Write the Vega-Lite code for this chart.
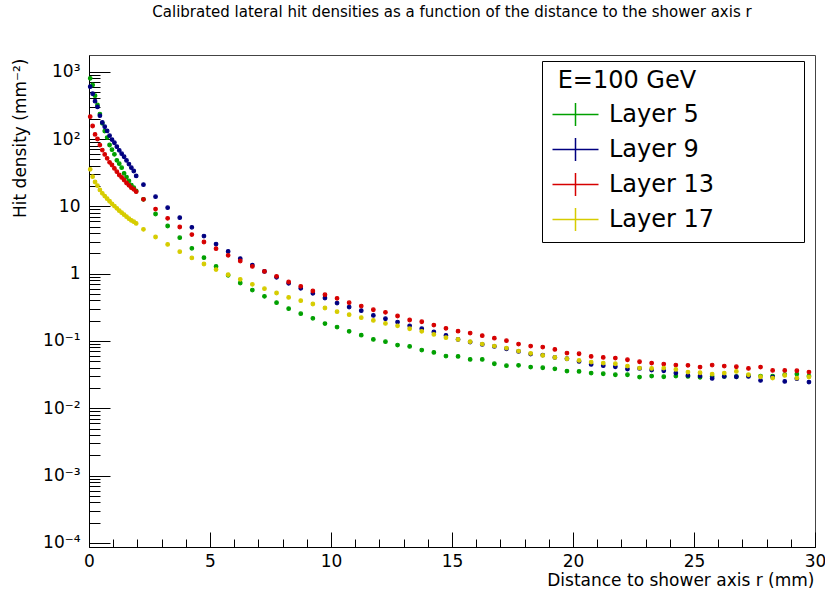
{
  "$schema": "https://vega.github.io/schema/vega-lite/v6.json",
  "width": 726,
  "height": 492,
  "autosize": {"type": "none"},
  "padding": {"left": 89, "top": 55, "right": 10, "bottom": 47},
  "background": "white",
  "title": {
    "text": "Calibrated lateral hit densities as a function of the distance to the shower axis r",
    "font": "DejaVu Sans",
    "fontSize": 15,
    "fontWeight": "normal",
    "color": "black",
    "anchor": "middle",
    "offset": 35
  },
  "config": {
    "view": {"stroke": "#444", "strokeWidth": 1}
  },
  "datasets": {
    "hits": [
      {"layer":"Layer 5","r":0.05,"density":796},{"layer":"Layer 5","r":0.15,"density":634},{"layer":"Layer 5","r":0.25,"density":440},{"layer":"Layer 5","r":0.35,"density":320},{"layer":"Layer 5","r":0.45,"density":235},{"layer":"Layer 5","r":0.55,"density":171},{"layer":"Layer 5","r":0.65,"density":131},{"layer":"Layer 5","r":0.75,"density":105},{"layer":"Layer 5","r":0.85,"density":81.5},{"layer":"Layer 5","r":0.95,"density":69.4},
      {"layer":"Layer 5","r":1.05,"density":59.2},{"layer":"Layer 5","r":1.15,"density":48.2},{"layer":"Layer 5","r":1.25,"density":43},{"layer":"Layer 5","r":1.35,"density":37.5},{"layer":"Layer 5","r":1.45,"density":30.9},{"layer":"Layer 5","r":1.55,"density":27.2},{"layer":"Layer 5","r":1.65,"density":23.8},{"layer":"Layer 5","r":1.75,"density":20.7},{"layer":"Layer 5","r":1.85,"density":18.9},{"layer":"Layer 5","r":1.95,"density":16.9},
      {"layer":"Layer 5","r":2.25,"density":12.7},{"layer":"Layer 5","r":2.75,"density":7.7},{"layer":"Layer 5","r":3.25,"density":5.1},{"layer":"Layer 5","r":3.75,"density":3.42},{"layer":"Layer 5","r":4.25,"density":2.38},{"layer":"Layer 5","r":4.75,"density":1.73},{"layer":"Layer 5","r":5.25,"density":1.28},{"layer":"Layer 5","r":5.75,"density":0.944},{"layer":"Layer 5","r":6.25,"density":0.726},{"layer":"Layer 5","r":6.75,"density":0.571},
      {"layer":"Layer 5","r":7.25,"density":0.46},{"layer":"Layer 5","r":7.75,"density":0.371},{"layer":"Layer 5","r":8.25,"density":0.302},{"layer":"Layer 5","r":8.75,"density":0.254},{"layer":"Layer 5","r":9.25,"density":0.217},{"layer":"Layer 5","r":9.75,"density":0.181},{"layer":"Layer 5","r":10.25,"density":0.161},{"layer":"Layer 5","r":10.75,"density":0.139},{"layer":"Layer 5","r":11.25,"density":0.122},{"layer":"Layer 5","r":11.75,"density":0.1055},
      {"layer":"Layer 5","r":12.25,"density":0.0975},{"layer":"Layer 5","r":12.75,"density":0.0869},{"layer":"Layer 5","r":13.25,"density":0.083},{"layer":"Layer 5","r":13.75,"density":0.0733},{"layer":"Layer 5","r":14.25,"density":0.0676},{"layer":"Layer 5","r":14.75,"density":0.0597},{"layer":"Layer 5","r":15.25,"density":0.059},{"layer":"Layer 5","r":15.75,"density":0.0532},{"layer":"Layer 5","r":16.25,"density":0.0532},{"layer":"Layer 5","r":16.75,"density":0.0459},
      {"layer":"Layer 5","r":17.25,"density":0.0429},{"layer":"Layer 5","r":17.75,"density":0.0434},{"layer":"Layer 5","r":18.25,"density":0.0409},{"layer":"Layer 5","r":18.75,"density":0.04},{"layer":"Layer 5","r":19.25,"density":0.0386},{"layer":"Layer 5","r":19.75,"density":0.0357},{"layer":"Layer 5","r":20.25,"density":0.0353},{"layer":"Layer 5","r":20.75,"density":0.0333},{"layer":"Layer 5","r":21.25,"density":0.0326},{"layer":"Layer 5","r":21.75,"density":0.0315},
      {"layer":"Layer 5","r":22.25,"density":0.0315},{"layer":"Layer 5","r":22.75,"density":0.0291},{"layer":"Layer 5","r":23.25,"density":0.0301},{"layer":"Layer 5","r":23.75,"density":0.0294},{"layer":"Layer 5","r":24.25,"density":0.0301},{"layer":"Layer 5","r":24.75,"density":0.0297},{"layer":"Layer 5","r":25.25,"density":0.0288},{"layer":"Layer 5","r":25.75,"density":0.0297},{"layer":"Layer 5","r":26.25,"density":0.0297},{"layer":"Layer 5","r":26.75,"density":0.0294},
      {"layer":"Layer 5","r":27.25,"density":0.0308},{"layer":"Layer 5","r":27.75,"density":0.0301},{"layer":"Layer 5","r":28.25,"density":0.0301},{"layer":"Layer 5","r":28.75,"density":0.0315},{"layer":"Layer 5","r":29.25,"density":0.0322},{"layer":"Layer 5","r":29.75,"density":0.0301},

      {"layer":"Layer 9","r":0.05,"density":600},{"layer":"Layer 9","r":0.15,"density":470},{"layer":"Layer 9","r":0.25,"density":365},{"layer":"Layer 9","r":0.35,"density":300},{"layer":"Layer 9","r":0.45,"density":222},{"layer":"Layer 9","r":0.55,"density":176},{"layer":"Layer 9","r":0.65,"density":152},{"layer":"Layer 9","r":0.75,"density":132},{"layer":"Layer 9","r":0.85,"density":112},{"layer":"Layer 9","r":0.95,"density":98},
      {"layer":"Layer 9","r":1.05,"density":88},{"layer":"Layer 9","r":1.15,"density":77},{"layer":"Layer 9","r":1.25,"density":68},{"layer":"Layer 9","r":1.35,"density":60.5},{"layer":"Layer 9","r":1.45,"density":54.5},{"layer":"Layer 9","r":1.55,"density":48},{"layer":"Layer 9","r":1.65,"density":42.5},{"layer":"Layer 9","r":1.75,"density":37.5},{"layer":"Layer 9","r":1.85,"density":33.5},{"layer":"Layer 9","r":1.95,"density":28.3},
      {"layer":"Layer 9","r":2.25,"density":21},{"layer":"Layer 9","r":2.75,"density":13.9},{"layer":"Layer 9","r":3.25,"density":9.55},{"layer":"Layer 9","r":3.75,"density":6.79},{"layer":"Layer 9","r":4.25,"density":4.88},{"layer":"Layer 9","r":4.75,"density":3.62},{"layer":"Layer 9","r":5.25,"density":2.75},{"layer":"Layer 9","r":5.75,"density":2.14},{"layer":"Layer 9","r":6.25,"density":1.67},{"layer":"Layer 9","r":6.75,"density":1.34},
      {"layer":"Layer 9","r":7.25,"density":1.08},{"layer":"Layer 9","r":7.75,"density":0.881},{"layer":"Layer 9","r":8.25,"density":0.718},{"layer":"Layer 9","r":8.75,"density":0.605},{"layer":"Layer 9","r":9.25,"density":0.51},{"layer":"Layer 9","r":9.75,"density":0.435},{"layer":"Layer 9","r":10.25,"density":0.366},{"layer":"Layer 9","r":10.75,"density":0.319},{"layer":"Layer 9","r":11.25,"density":0.282},{"layer":"Layer 9","r":11.75,"density":0.24},
      {"layer":"Layer 9","r":12.25,"density":0.214},{"layer":"Layer 9","r":12.75,"density":0.191},{"layer":"Layer 9","r":13.25,"density":0.168},{"layer":"Layer 9","r":13.75,"density":0.152},{"layer":"Layer 9","r":14.25,"density":0.136},{"layer":"Layer 9","r":14.75,"density":0.121},{"layer":"Layer 9","r":15.25,"density":0.1055},{"layer":"Layer 9","r":15.75,"density":0.0964},{"layer":"Layer 9","r":16.25,"density":0.089},{"layer":"Layer 9","r":16.75,"density":0.083},
      {"layer":"Layer 9","r":17.25,"density":0.0767},{"layer":"Layer 9","r":17.75,"density":0.07},{"layer":"Layer 9","r":18.25,"density":0.0639},{"layer":"Layer 9","r":18.75,"density":0.0617},{"layer":"Layer 9","r":19.25,"density":0.057},{"layer":"Layer 9","r":19.75,"density":0.0544},{"layer":"Layer 9","r":20.25,"density":0.0497},{"layer":"Layer 9","r":20.75,"density":0.0449},{"layer":"Layer 9","r":21.25,"density":0.0429},{"layer":"Layer 9","r":21.75,"density":0.0414},
      {"layer":"Layer 9","r":22.25,"density":0.0382},{"layer":"Layer 9","r":22.75,"density":0.0391},{"layer":"Layer 9","r":23.25,"density":0.037},{"layer":"Layer 9","r":23.75,"density":0.0361},{"layer":"Layer 9","r":24.25,"density":0.0333},{"layer":"Layer 9","r":24.75,"density":0.0308},{"layer":"Layer 9","r":25.25,"density":0.0301},{"layer":"Layer 9","r":25.75,"density":0.0278},{"layer":"Layer 9","r":26.25,"density":0.0297},{"layer":"Layer 9","r":26.75,"density":0.0294},
      {"layer":"Layer 9","r":27.25,"density":0.0297},{"layer":"Layer 9","r":27.75,"density":0.0259},{"layer":"Layer 9","r":28.25,"density":0.0291},{"layer":"Layer 9","r":28.75,"density":0.0251},{"layer":"Layer 9","r":29.25,"density":0.0275},{"layer":"Layer 9","r":29.75,"density":0.0245},

      {"layer":"Layer 13","r":0.05,"density":215},{"layer":"Layer 13","r":0.15,"density":156},{"layer":"Layer 13","r":0.25,"density":117},{"layer":"Layer 13","r":0.35,"density":100},{"layer":"Layer 13","r":0.45,"density":81.4},{"layer":"Layer 13","r":0.55,"density":68.6},{"layer":"Layer 13","r":0.65,"density":59.1},{"layer":"Layer 13","r":0.75,"density":51.6},{"layer":"Layer 13","r":0.85,"density":45},{"layer":"Layer 13","r":0.95,"density":41.1},
      {"layer":"Layer 13","r":1.05,"density":36.6},{"layer":"Layer 13","r":1.15,"density":32.7},{"layer":"Layer 13","r":1.25,"density":29.2},{"layer":"Layer 13","r":1.35,"density":26.9},{"layer":"Layer 13","r":1.45,"density":24.6},{"layer":"Layer 13","r":1.55,"density":22.2},{"layer":"Layer 13","r":1.65,"density":20.5},{"layer":"Layer 13","r":1.75,"density":18.9},{"layer":"Layer 13","r":1.85,"density":17.9},{"layer":"Layer 13","r":1.95,"density":16.5},
      {"layer":"Layer 13","r":2.25,"density":12.7},{"layer":"Layer 13","r":2.75,"density":9.1},{"layer":"Layer 13","r":3.25,"density":6.63},{"layer":"Layer 13","r":3.75,"density":4.93},{"layer":"Layer 13","r":4.25,"density":3.8},{"layer":"Layer 13","r":4.75,"density":2.95},{"layer":"Layer 13","r":5.25,"density":2.35},{"layer":"Layer 13","r":5.75,"density":1.87},{"layer":"Layer 13","r":6.25,"density":1.54},{"layer":"Layer 13","r":6.75,"density":1.28},
      {"layer":"Layer 13","r":7.25,"density":1.08},{"layer":"Layer 13","r":7.75,"density":0.912},{"layer":"Layer 13","r":8.25,"density":0.751},{"layer":"Layer 13","r":8.75,"density":0.648},{"layer":"Layer 13","r":9.25,"density":0.552},{"layer":"Layer 13","r":9.75,"density":0.487},{"layer":"Layer 13","r":10.25,"density":0.43},{"layer":"Layer 13","r":10.75,"density":0.37},{"layer":"Layer 13","r":11.25,"density":0.33},{"layer":"Layer 13","r":11.75,"density":0.291},
      {"layer":"Layer 13","r":12.25,"density":0.266},{"layer":"Layer 13","r":12.75,"density":0.235},{"layer":"Layer 13","r":13.25,"density":0.205},{"layer":"Layer 13","r":13.75,"density":0.193},{"layer":"Layer 13","r":14.25,"density":0.172},{"layer":"Layer 13","r":14.75,"density":0.154},{"layer":"Layer 13","r":15.25,"density":0.14},{"layer":"Layer 13","r":15.75,"density":0.131},{"layer":"Layer 13","r":16.25,"density":0.12},{"layer":"Layer 13","r":16.75,"density":0.11},
      {"layer":"Layer 13","r":17.25,"density":0.101},{"layer":"Layer 13","r":17.75,"density":0.09},{"layer":"Layer 13","r":18.25,"density":0.084},{"layer":"Layer 13","r":18.75,"density":0.0812},{"layer":"Layer 13","r":19.25,"density":0.075},{"layer":"Layer 13","r":19.75,"density":0.0661},{"layer":"Layer 13","r":20.25,"density":0.0646},{"layer":"Layer 13","r":20.75,"density":0.059},{"layer":"Layer 13","r":21.25,"density":0.057},{"layer":"Layer 13","r":21.75,"density":0.0557},
      {"layer":"Layer 13","r":22.25,"density":0.0526},{"layer":"Layer 13","r":22.75,"density":0.0491},{"layer":"Layer 13","r":23.25,"density":0.0469},{"layer":"Layer 13","r":23.75,"density":0.0454},{"layer":"Layer 13","r":24.25,"density":0.0439},{"layer":"Layer 13","r":24.75,"density":0.0434},{"layer":"Layer 13","r":25.25,"density":0.0409},{"layer":"Layer 13","r":25.75,"density":0.0439},{"layer":"Layer 13","r":26.25,"density":0.0424},{"layer":"Layer 13","r":26.75,"density":0.0414},
      {"layer":"Layer 13","r":27.25,"density":0.0391},{"layer":"Layer 13","r":27.75,"density":0.0409},{"layer":"Layer 13","r":28.25,"density":0.0365},{"layer":"Layer 13","r":28.75,"density":0.0365},{"layer":"Layer 13","r":29.25,"density":0.0361},{"layer":"Layer 13","r":29.75,"density":0.0345},

      {"layer":"Layer 17","r":0.05,"density":35.4},{"layer":"Layer 17","r":0.15,"density":27.6},{"layer":"Layer 17","r":0.25,"density":23},{"layer":"Layer 17","r":0.35,"density":20.3},{"layer":"Layer 17","r":0.45,"density":17.5},{"layer":"Layer 17","r":0.55,"density":15.6},{"layer":"Layer 17","r":0.65,"density":14.2},{"layer":"Layer 17","r":0.75,"density":13},{"layer":"Layer 17","r":0.85,"density":11.9},{"layer":"Layer 17","r":0.95,"density":10.9},
      {"layer":"Layer 17","r":1.05,"density":10.1},{"layer":"Layer 17","r":1.15,"density":9.33},{"layer":"Layer 17","r":1.25,"density":8.61},{"layer":"Layer 17","r":1.35,"density":8.04},{"layer":"Layer 17","r":1.45,"density":7.51},{"layer":"Layer 17","r":1.55,"density":7.02},{"layer":"Layer 17","r":1.65,"density":6.55},{"layer":"Layer 17","r":1.75,"density":6.18},{"layer":"Layer 17","r":1.85,"density":5.91},{"layer":"Layer 17","r":1.95,"density":5.58},
      {"layer":"Layer 17","r":2.25,"density":4.55},{"layer":"Layer 17","r":2.75,"density":3.5},{"layer":"Layer 17","r":3.25,"density":2.72},{"layer":"Layer 17","r":3.75,"density":2.12},{"layer":"Layer 17","r":4.25,"density":1.71},{"layer":"Layer 17","r":4.75,"density":1.39},{"layer":"Layer 17","r":5.25,"density":1.15},{"layer":"Layer 17","r":5.75,"density":0.966},{"layer":"Layer 17","r":6.25,"density":0.823},{"layer":"Layer 17","r":6.75,"density":0.693},
      {"layer":"Layer 17","r":7.25,"density":0.598},{"layer":"Layer 17","r":7.75,"density":0.516},{"layer":"Layer 17","r":8.25,"density":0.444},{"layer":"Layer 17","r":8.75,"density":0.397},{"layer":"Layer 17","r":9.25,"density":0.354},{"layer":"Layer 17","r":9.75,"density":0.309},{"layer":"Layer 17","r":10.25,"density":0.272},{"layer":"Layer 17","r":10.75,"density":0.246},{"layer":"Layer 17","r":11.25,"density":0.222},{"layer":"Layer 17","r":11.75,"density":0.202},
      {"layer":"Layer 17","r":12.25,"density":0.182},{"layer":"Layer 17","r":12.75,"density":0.168},{"layer":"Layer 17","r":13.25,"density":0.152},{"layer":"Layer 17","r":13.75,"density":0.139},{"layer":"Layer 17","r":14.25,"density":0.125},{"layer":"Layer 17","r":14.75,"density":0.112},{"layer":"Layer 17","r":15.25,"density":0.1055},{"layer":"Layer 17","r":15.75,"density":0.0975},{"layer":"Layer 17","r":16.25,"density":0.09},{"layer":"Layer 17","r":16.75,"density":0.084},
      {"layer":"Layer 17","r":17.25,"density":0.0785},{"layer":"Layer 17","r":17.75,"density":0.0708},{"layer":"Layer 17","r":18.25,"density":0.0654},{"layer":"Layer 17","r":18.75,"density":0.061},{"layer":"Layer 17","r":19.25,"density":0.057},{"layer":"Layer 17","r":19.75,"density":0.0544},{"layer":"Layer 17","r":20.25,"density":0.0514},{"layer":"Layer 17","r":20.75,"density":0.0486},{"layer":"Layer 17","r":21.25,"density":0.0469},{"layer":"Layer 17","r":21.75,"density":0.0459},
      {"layer":"Layer 17","r":22.25,"density":0.0424},{"layer":"Layer 17","r":22.75,"density":0.0396},{"layer":"Layer 17","r":23.25,"density":0.0391},{"layer":"Layer 17","r":23.75,"density":0.0396},{"layer":"Layer 17","r":24.25,"density":0.0378},{"layer":"Layer 17","r":24.75,"density":0.0345},{"layer":"Layer 17","r":25.25,"density":0.0337},{"layer":"Layer 17","r":25.75,"density":0.0322},{"layer":"Layer 17","r":26.25,"density":0.0333},{"layer":"Layer 17","r":26.75,"density":0.0353},
      {"layer":"Layer 17","r":27.25,"density":0.0315},{"layer":"Layer 17","r":27.75,"density":0.0294},{"layer":"Layer 17","r":28.25,"density":0.0281},{"layer":"Layer 17","r":28.75,"density":0.0308},{"layer":"Layer 17","r":29.25,"density":0.0281},{"layer":"Layer 17","r":29.75,"density":0.0291}
    ]
  },
  "data": {"name": "hits"},
  "mark": {"type": "point", "filled": true, "size": 13, "opacity": 1, "strokeWidth": 1.2},
  "encoding": {
    "x": {
      "field": "r",
      "type": "quantitative",
      "scale": {"domain": [0, 30], "nice": false, "zero": false},
      "axis": {
        "values": [0,1,2,3,4,5,6,7,8,9,10,11,12,13,14,15,16,17,18,19,20,21,22,23,24,25,26,27,28,29,30],
        "labelExpr": "datum.value % 5 == 0 ? datum.label : ''",
        "tickSize": {"condition": {"test": "datum.value % 5 == 0", "value": -15}, "value": -8},
        "labelPadding": 21,
        "labelFont": "DejaVu Sans",
        "labelFontSize": 17,
        "labelColor": "black",
        "labelOverlap": false,
        "labelFlush": false,
        "tickColor": "black",
        "domainColor": "black",
        "grid": false,
        "title": "Distance to shower axis r (mm)",
        "titleFont": "DejaVu Sans",
        "titleFontSize": 17,
        "titleFontWeight": "normal",
        "titleColor": "black",
        "titleAnchor": "end",
        "titleAlign": "right",
        "titleBaseline": "alphabetic",
        "titleX": 725,
        "titleY": 38
      }
    },
    "y": {
      "field": "density",
      "type": "quantitative",
      "scale": {"type": "log", "domain": [0.000087, 1770], "nice": false},
      "axis": {
        "values": [0.0001,0.0002,0.0003,0.0004,0.0005,0.0006,0.0007,0.0008,0.0009,0.001,0.002,0.003,0.004,0.005,0.006,0.007,0.008,0.009,0.01,0.02,0.03,0.04,0.05,0.06,0.07,0.08,0.09,0.1,0.2,0.3,0.4,0.5,0.6,0.7,0.8,0.9,1,2,3,4,5,6,7,8,9,10,20,30,40,50,60,70,80,90,100,200,300,400,500,600,700,800,900,1000],
        "labelExpr": "abs(log(datum.value)/LN10 - round(log(datum.value)/LN10)) > 0.001 ? '' : round(log(datum.value)/LN10) == 0 ? '1' : round(log(datum.value)/LN10) == 1 ? '10' : round(log(datum.value)/LN10) == 2 ? '10²' : round(log(datum.value)/LN10) == 3 ? '10³' : round(log(datum.value)/LN10) == -1 ? '10⁻¹' : round(log(datum.value)/LN10) == -2 ? '10⁻²' : round(log(datum.value)/LN10) == -3 ? '10⁻³' : '10⁻⁴'",
        "tickSize": {"condition": {"test": "abs(log(datum.value)/LN10 - round(log(datum.value)/LN10)) < 0.001", "value": -21}, "value": -11},
        "labelPadding": 30,
        "labelFont": "DejaVu Sans",
        "labelFontSize": 17,
        "labelColor": "black",
        "labelOverlap": false,
        "labelFlush": false,
        "tickColor": "black",
        "domainColor": "black",
        "grid": false,
        "title": "Hit density (mm⁻²)",
        "titleFont": "DejaVu Sans",
        "titleFontSize": 17,
        "titleFontWeight": "normal",
        "titleColor": "black",
        "titleAngle": -90,
        "titleAlign": "right",
        "titleBaseline": "middle",
        "titleX": -69,
        "titleY": 3
      }
    },
    "fill": {
      "field": "layer",
      "type": "nominal",
      "sort": ["Layer 5", "Layer 9", "Layer 13", "Layer 17"],
      "scale": {"domain": ["Layer 5", "Layer 9", "Layer 13", "Layer 17"], "range": ["#00a000", "#000080", "#d60000", "#d6cc00"]},
      "legend": {
        "orient": "none",
        "legendX": 453,
        "legendY": 6,
        "title": "\u200b\u00a0E=100 GeV\u00a0\u00a0\u00a0\u00a0\u00a0\u00a0\u00a0\u00a0\u00a0\u00a0\u00a0\u00a0\u00a0\u200b",
        "titleFont": "DejaVu Sans",
        "titleFontSize": 24,
        "titleFontWeight": "normal",
        "titleColor": "black",
        "titlePadding": 9,
        "titleLimit": 400,
        "labelFont": "DejaVu Sans",
        "labelFontSize": 24,
        "labelColor": "black",
        "labelOffset": 21,
        "symbolType": "M-2,0H2M0,-1V1",
        "symbolSize": 529,
        "symbolStrokeWidth": 1.5,
        "symbolOffset": 13,
        "rowPadding": 6,
        "padding": 8,
        "strokeColor": "black",
        "fillColor": "white"
      }
    },
    "stroke": {
      "field": "layer",
      "type": "nominal",
      "sort": ["Layer 5", "Layer 9", "Layer 13", "Layer 17"],
      "scale": {"domain": ["Layer 5", "Layer 9", "Layer 13", "Layer 17"], "range": ["#00a000", "#000080", "#d60000", "#d6cc00"]},
      "legend": {
        "orient": "none",
        "legendX": 453,
        "legendY": 6,
        "title": "\u200b\u00a0E=100 GeV\u00a0\u00a0\u00a0\u00a0\u00a0\u00a0\u00a0\u00a0\u00a0\u00a0\u00a0\u00a0\u00a0\u200b",
        "titleFont": "DejaVu Sans",
        "titleFontSize": 24,
        "titleFontWeight": "normal",
        "titleColor": "black",
        "titlePadding": 9,
        "titleLimit": 400,
        "labelFont": "DejaVu Sans",
        "labelFontSize": 24,
        "labelColor": "black",
        "labelOffset": 21,
        "symbolType": "M-2,0H2M0,-1V1",
        "symbolSize": 529,
        "symbolStrokeWidth": 1.5,
        "symbolOffset": 13,
        "rowPadding": 6,
        "padding": 8,
        "strokeColor": "black",
        "fillColor": "white"
      }
    }
  }
}
